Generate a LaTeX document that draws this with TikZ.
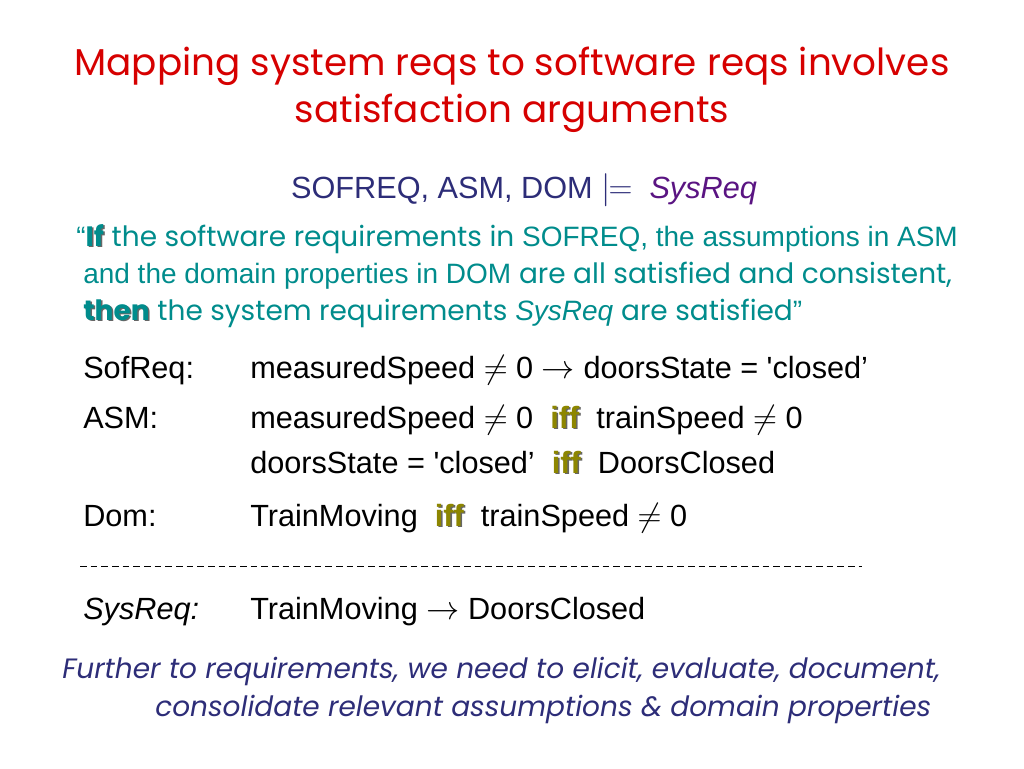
\documentclass[tikz,border=0pt]{standalone}
\usepackage{fontspec}
\setmainfont{Liberation Sans}
\newfontfamily\comic{Poppins}
\usetikzlibrary{positioning}
\definecolor{titlered}{RGB}{214,0,0}
\definecolor{navy}{RGB}{45,45,120}
\definecolor{teal2}{RGB}{0,140,140}
\definecolor{purp}{RGB}{90,20,130}
\newcommand{\shad}[2]{{\rlap{\kern1.2pt\raise-1.2pt\hbox{\color{black!60}\bfseries #2}}{\color{#1}\bfseries #2}}}
\begin{document}
\begin{tikzpicture}[x=0.75pt,y=-0.75pt,
  title/.style={anchor=base,text=titlered,font=\comic\fontsize{28}{30}\selectfont},
  teal/.style={anchor=base west,text=teal2,font=\fontsize{21}{24}\selectfont,inner sep=0pt},
  row/.style={anchor=base west,font=\fontsize{23}{27}\selectfont,inner sep=0pt},
  foot/.style={anchor=base west,text=navy,font=\comic\itshape\fontsize{21}{24}\selectfont,inner sep=0pt}]
\useasboundingbox (0,0) rectangle (1024,768);
\node[title] (t1) at (512,75) {Mapping system reqs to software reqs involves};
\node[title] (t2) at (512,122) {satisfaction arguments};
\node[row,anchor=base] (ent) at (524,198) {\color{navy}SOFREQ, ASM, DOM $|\!\!=$~ \color{purp}\textit{SysReq}};
\node[teal] (p1) at (76,246) {\textquotedblleft\shad{teal2}{\comic If} {\comic the software requirements in} SOFREQ, the assumptions in ASM};
\node[teal] (p2) at (83,283) {and the domain properties in DOM {\comic are all satisfied and consistent,}};
\node[teal] (p3) at (83,320) {\shad{teal2}{\comic then} {\comic the system requirements} \textit{SysReq} {\comic are satisfied}\textquotedblright};
\node[row] (l1) at (83,378) {SofReq:};
\node[row] (r1) at (250,378) {measuredSpeed $\neq$ 0 $\rightarrow$ doorsState = \textquotesingle closed'};
\node[row] (l2) at (83,428) {ASM:};
\node[row] (r2) at (250,428) {measuredSpeed $\neq$ 0 ~\shad{olive}{iff}~ trainSpeed $\neq$ 0};
\node[row] (r3) at (250,473) {doorsState = \textquotesingle closed' ~\shad{olive}{iff}~ DoorsClosed};
\node[row] (l4) at (83,526) {Dom:};
\node[row] (r4) at (250,526) {TrainMoving ~\shad{olive}{iff}~ trainSpeed $\neq$ 0};
\draw[dash pattern=on 5pt off 3pt,line width=0.6pt] (80,566) coordinate (d1) -- (862,566) coordinate (d2);
\node[row] (l5) at (83,619) {\itshape SysReq:};
\node[row] (r5) at (250,619) {TrainMoving $\rightarrow$ DoorsClosed};
\node[foot] (f1) at (62,678) {Further to requirements, we need to elicit, evaluate, document,};
\node[foot] (f2) at (155,716) {consolidate relevant assumptions \& domain properties};
\end{tikzpicture}
\end{document}
